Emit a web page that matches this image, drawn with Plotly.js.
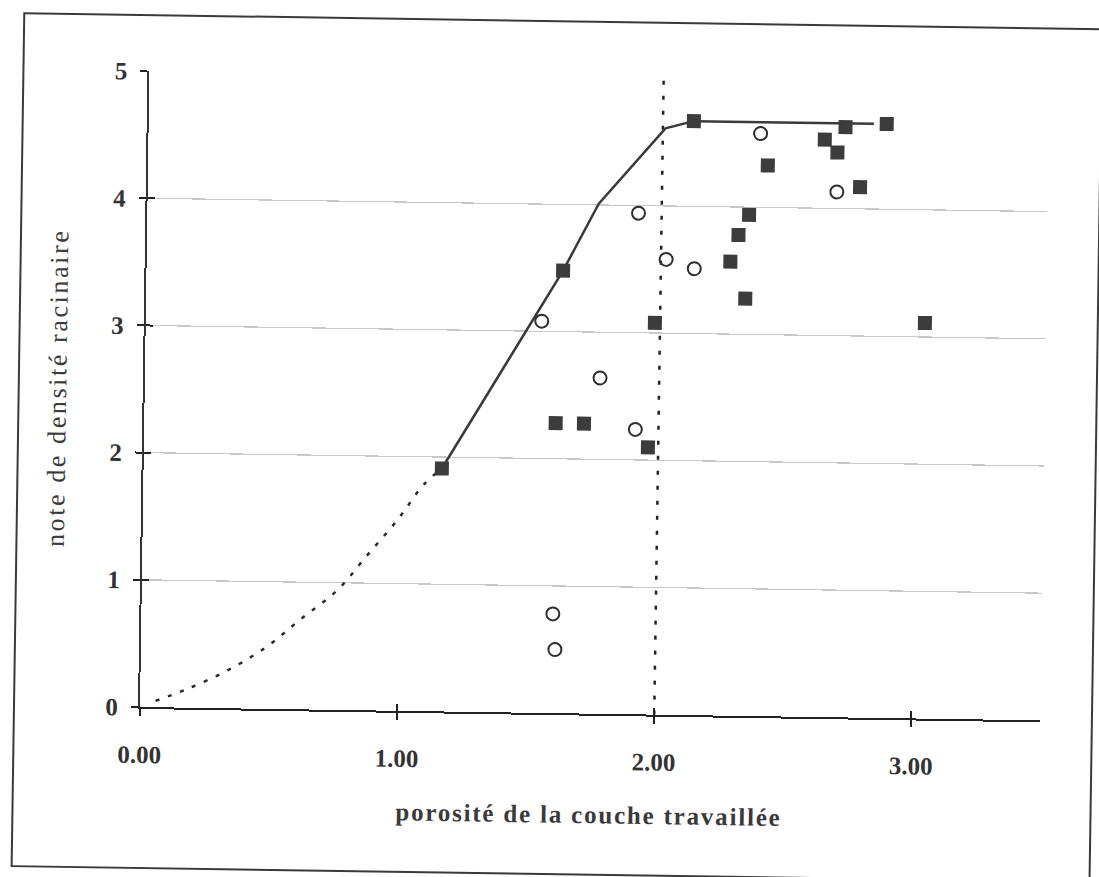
<!DOCTYPE html>
<html>
<head>
<meta charset="utf-8">
<script src="https://cdn.plot.ly/plotly-3.0.1.min.js"></script>
<style>
  html, body { margin:0; padding:0; background:#fff; overflow:hidden; width:1099px; height:877px; }
  #wrap { position:absolute; left:0; top:0; width:1099px; height:877px;
          transform: rotate(0.85deg); transform-origin: 140px 707px; }
  #frame { position:absolute; left:13px; top:14px; width:1080px; height:855px;
           border:2px solid #3a3a3a; box-sizing:border-box; }
  #chart { position:absolute; left:0; top:0; width:1099px; height:877px; }
  .xtitle { letter-spacing: 1.8px; }
  .ytitle { letter-spacing: 2.6px; }
</style>
</head>
<body>
<div id="wrap">
  <div id="frame"></div>
  <div id="chart"></div>
</div>
<script>
// ---- data ----
var xTickVals = [0, 1, 2, 3];
var xTickText = ['0.00', '1.00', '2.00', '3.00'];
var yTickVals = [0, 1, 2, 3, 4, 5];
var yTickText = ['0', '1', '2', '3', '4', '5'];

// open circles
var circlesX = [1.60, 1.61, 1.54, 1.77, 1.91, 1.91, 2.02, 2.13, 2.38, 2.68];
var circlesY = [0.78, 0.50, 3.08, 2.64, 2.24, 3.94, 3.58, 3.51, 4.58, 4.13];

// filled squares
var squaresX = [1.16, 1.62, 1.98, 1.60, 1.71, 1.96, 2.12, 2.41, 2.63, 2.68, 2.71, 2.87, 2.77, 2.34, 2.30, 2.27, 2.33, 3.03];
var squaresY = [1.91, 3.48, 3.08, 2.28, 2.28, 2.10, 4.67, 4.33, 4.54, 4.44, 4.64, 4.67, 4.17, 3.94, 3.78, 3.57, 3.28, 3.11];

// envelope curve (solid part)
var envelopeX = [1.16, 1.62, 1.755, 2.01, 2.12, 2.82];
var envelopeY = [1.91, 3.48, 4.01, 4.61, 4.67, 4.67];

// extrapolated part of the envelope (dotted)
var extrapX = [0.06, 0.18, 0.34, 0.49, 0.62, 0.76, 0.875, 0.99, 1.09, 1.16];
var extrapY = [0.05, 0.145, 0.30, 0.49, 0.71, 0.94, 1.22, 1.50, 1.78, 1.91];

// threshold porosity line
var thresholdX = [2.0, 2.0];
var thresholdY = [0, 5];

var xTitle = 'porosité de la couche travaillée';
var yTitle = 'note de densité racinaire';

// ---- styles ----
var SERIF = 'Liberation Serif, Times New Roman, serif';
var INK = '#333333';

var traces = [
  { x: thresholdX, y: thresholdY, mode: 'lines', showlegend: false, hoverinfo: 'skip',
    line: { color: '#222', width: 2.5, dash: '4px,11px' } },
  { x: extrapX, y: extrapY, mode: 'lines', showlegend: false, hoverinfo: 'skip',
    line: { color: '#2a2a2a', width: 2.5, dash: '4px,9px', shape: 'spline' } },
  { x: envelopeX, y: envelopeY, mode: 'lines', showlegend: false, hoverinfo: 'skip',
    line: { color: '#3a3a3a', width: 2.5 } },
  { x: circlesX, y: circlesY, mode: 'markers', showlegend: false, hoverinfo: 'skip',
    marker: { symbol: 'circle-open', size: 13, color: '#2e2e2e', line: { width: 2, color: '#2e2e2e' } } },
  { x: squaresX, y: squaresY, mode: 'markers', showlegend: false, hoverinfo: 'skip',
    marker: { symbol: 'square', size: 14, color: '#3c3c3c', line: { width: 0 } } },
  { x: [], y: [], xaxis: 'x2', yaxis: 'y2', mode: 'markers', showlegend: false, hoverinfo: 'skip' }
];

var layout = {
  width: 1099, height: 877,
  margin: { l: 140, r: 59, t: 71, b: 170, pad: 0 },
  paper_bgcolor: 'rgba(0,0,0,0)',
  plot_bgcolor: 'rgba(0,0,0,0)',
  showlegend: false,
  font: { family: SERIF, color: INK },
  xaxis: {
    range: [0, 3.5], autorange: false, fixedrange: true,
    tickmode: 'array', tickvals: xTickVals, ticktext: xTickText,
    ticks: 'outside', ticklen: 7, tickwidth: 2, tickcolor: '#222',
    ticklabelstandoff: 17,
    showline: true, linecolor: '#222', linewidth: 2,
    showgrid: false, zeroline: false,
    tickfont: { family: SERIF, size: 25, color: INK, weight: 'bold' },
    title: { text: xTitle, standoff: 32, font: { family: SERIF, size: 25, color: '#3a3a3a', weight: 'bold' } }
  },
  yaxis: {
    range: [0, 5], autorange: false, fixedrange: true,
    tickmode: 'array', tickvals: yTickVals, ticktext: yTickText,
    ticks: 'outside', ticklen: 7, tickwidth: 2, tickcolor: '#222',
    ticklabelstandoff: 8,
    showline: true, linecolor: '#333', linewidth: 2,
    showgrid: true, gridcolor: '#c8c8c8', gridwidth: 1.2,
    zeroline: false,
    tickfont: { family: SERIF, size: 25, color: INK, weight: 'bold' },
    title: { text: yTitle, standoff: 36, font: { family: SERIF, size: 26, color: '#3a3a3a' } }
  },
  xaxis2: {
    overlaying: 'x', anchor: 'y2', range: [0, 3.5], autorange: false, fixedrange: true,
    tickmode: 'array', tickvals: xTickVals, showticklabels: false,
    ticks: 'inside', ticklen: 7, tickwidth: 2, tickcolor: '#222',
    showline: false, showgrid: false, zeroline: false
  },
  yaxis2: {
    overlaying: 'y', anchor: 'x2', range: [0, 5], autorange: false, fixedrange: true,
    tickmode: 'array', tickvals: yTickVals, showticklabels: false,
    ticks: 'inside', ticklen: 7, tickwidth: 2, tickcolor: '#222',
    showline: false, showgrid: false, zeroline: false
  }
};

Plotly.newPlot('chart', traces, layout, { staticPlot: true, displayModeBar: false });
</script>
</body>
</html>
